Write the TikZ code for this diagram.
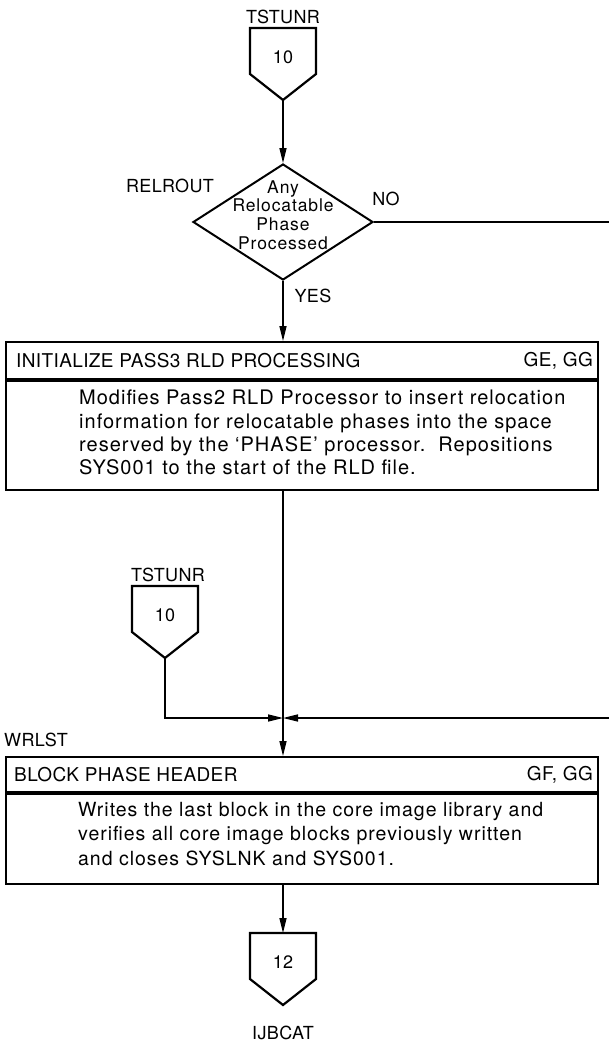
\documentclass[tikz,border=0pt]{standalone}
\usepackage{fontspec}
\setmainfont{TeX Gyre Heros}
\newfontfamily\bodyfont[LetterSpace=5]{TeX Gyre Heros}
\newfontfamily\headfont[LetterSpace=2]{TeX Gyre Heros}
\usetikzlibrary{arrows.meta,calc,positioning,shapes.geometric}

\begin{document}
\begin{tikzpicture}[
  x=1pt, y=-1pt,
  every node/.style={font=\headfont\fontsize{18}{23}\selectfont, inner sep=0pt},
  num/.style={font=\headfont\fontsize{18}{23}\selectfont},
  pent/.style={line width=2.2pt, line join=miter},
  dia/.style={draw, diamond, line width=2pt, minimum width=180pt, minimum height=116pt},
  qtext/.style={align=center, font=\bodyfont\fontsize{17.5}{18.5}\selectfont},
  head/.style={draw, line width=2pt, minimum width=592pt},
  htext/.style={font=\headfont\fontsize{19}{23}\selectfont},
  body/.style={draw, line width=2pt, minimum width=592pt},
  txt/.style={align=left, anchor=north west},
  flow/.style={line width=1.5pt, -{Triangle[length=15pt,width=7pt]}},
]
\useasboundingbox (0,0) rectangle (608,1052);

% off-page connectors
\node[num] (c1) at (283,57)  {10};
\node[num] (c2) at (165,615) {10};
\node[num] (c3) at (283,962) {12};
\foreach \c in {c1,c2,c3} {
  \draw[pent] ($(\c)+(-33,-29)$) -- ($(\c)+(33,-29)$) -- ($(\c)+(33,17)$)
    -- ($(\c)+(0,43)$) -- ($(\c)+(-33,17)$) -- cycle;
  \coordinate (\c tip) at ($(\c)+(0,43)$);
}
\node (c1l) at (283,17)   {TSTUNR};
\node (c2l) at (168,575)  {TSTUNR};
\node (c3l) at (283,1033) {IJBCAT};

% decision
\node (rel) at (170,186) {RELROUT};
\node[dia] (d1) at (283,222) {};
\node[qtext] (q1) at (283,215) {Any\\Relocatable\\Phase\\Processed};
\node (no)  at (386,199) {NO};
\node (yes) at (313,296) {YES};

% initialize pass3
\node[head, minimum height=37pt] (h1) at (302,360.5) {};
\node[htext, anchor=west] (h1l) at ($(h1.west)+(11,0)$) {INITIALIZE PASS3 RLD PROCESSING};
\node[htext, anchor=east] (h1r) at ($(h1.east)+(-6,0)$) {GE, GG};
\node[body, below=0pt of h1, minimum height=109pt] (b1) {};
\node[txt, font=\bodyfont\fontsize{20}{23.3}\selectfont] (t1) at ($(b1.north west)+(74,10)$)
  {Modifies Pass2 RLD Processor to insert relocation\\
   information for relocatable phases into the space\\
   reserved by the ‘PHASE’ processor.\ \ Repositions\\
   SYS001 to the start of the RLD file.};

% block phase header
\node[anchor=west] (wr) at (4,740) {WRLST};
\node[head, minimum height=35pt] (h2) at (302,774.5) {};
\node[htext, anchor=west] (h2l) at ($(h2.west)+(9,0)$) {BLOCK PHASE HEADER};
\node[htext, anchor=east] (h2r) at ($(h2.east)+(-6,0)$) {GF, GG};
\node[body, below=0pt of h2, minimum height=90pt] (b2) {};
\node[txt, font=\bodyfont\fontsize{19.5}{24.5}\selectfont] (t2) at ($(b2.north west)+(73,9)$)
  {Writes the last block in the core image library and\\
   verifies all core image blocks previously written\\
   and closes SYSLNK and SYS001.};

% connectors
\coordinate (m)  at (283,718);
\coordinate (rt) at (612,222);
\coordinate (rb) at (612,718);
\draw[flow] (c1tip) -- (d1.north);
\draw[flow] (d1.south) -- (h1.north -| d1.south);
\draw[flow] (d1.east) -- (rt) -- (rb) -- (m);
\draw[flow] (c2tip) |- (m);
\draw[flow] (b1.south -| m) -- (h2.north -| m);
\draw[flow] (b2.south -| m) -- ($(c3)+(0,-29)$);
\end{tikzpicture}
\end{document}
